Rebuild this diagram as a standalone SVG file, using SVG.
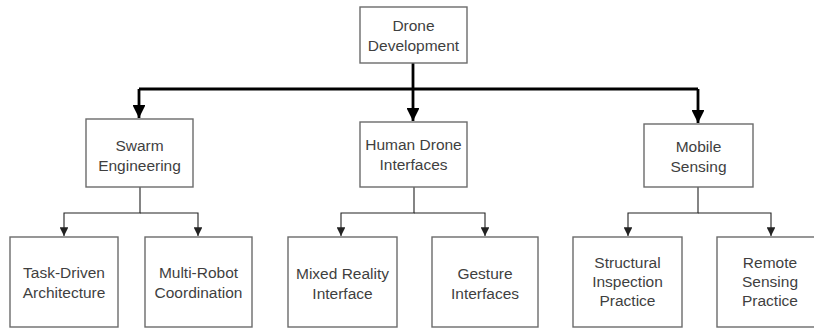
<svg xmlns="http://www.w3.org/2000/svg" width="814" height="329" viewBox="0 0 814 329">
<defs>
<style>
.box{fill:#ffffff;stroke:#6b6b6b;stroke-width:1.4}
.t{font-family:"Liberation Sans",Arial,sans-serif;font-size:15.5px;fill:#3f3f3f;text-anchor:middle}
.thick{fill:none;stroke:#000;stroke-width:2.8}
.thin{fill:none;stroke:#222;stroke-width:1.1}
</style>
<marker id="big" viewBox="0 0 10 10" refX="10" refY="5" markerWidth="4.6" markerHeight="4.6" markerUnits="strokeWidth" orient="auto">
<path d="M0,0 L10,5 L0,10 Z" fill="#000"/>
</marker>
<marker id="small" viewBox="0 0 10 10" refX="10" refY="5" markerWidth="8" markerHeight="8" markerUnits="strokeWidth" orient="auto">
<path d="M0,0 L10,5 L0,10 Z" fill="#222"/>
</marker>
</defs>
<rect width="814" height="329" fill="#ffffff"/>
<g id="connectors">
<path class="thick" d="M413,63 V89"/>
<path class="thick" d="M139,89 H698"/>
<path class="thick" d="M139,89 V118" marker-end="url(#big)"/>
<path class="thick" d="M413,89 V121" marker-end="url(#big)"/>
<path class="thick" d="M698,89 V123" marker-end="url(#big)"/>
<path class="thin" d="M140,187 V213 H64 V236" marker-end="url(#small)"/>
<path class="thin" d="M140,213 H198 V236" marker-end="url(#small)"/>
<path class="thin" d="M414,187 V213 H341 V236" marker-end="url(#small)"/>
<path class="thin" d="M414,213 H485 V236" marker-end="url(#small)"/>
<path class="thin" d="M698,187 V213 H628 V236" marker-end="url(#small)"/>
<path class="thin" d="M698,213 H771 V236" marker-end="url(#small)"/>
</g>
<g id="root">
<rect class="box" x="360" y="7" width="107" height="56"/>
<text class="t" x="413.5" y="31">Drone</text>
<text class="t" x="413.5" y="51">Development</text>
</g>
<g id="swarm">
<rect class="box" x="86" y="119" width="107" height="68"/>
<text class="t" x="139.5" y="151">Swarm</text>
<text class="t" x="139.5" y="171">Engineering</text>
</g>
<g id="hdi">
<rect class="box" x="360" y="122" width="107" height="65"/>
<text class="t" x="413.5" y="150">Human Drone</text>
<text class="t" x="413.5" y="170">Interfaces</text>
</g>
<g id="mobile">
<rect class="box" x="644" y="124" width="109" height="63"/>
<text class="t" x="698.5" y="152">Mobile</text>
<text class="t" x="698.5" y="172">Sensing</text>
</g>
<g id="task">
<rect class="box" x="10" y="237" width="108" height="90"/>
<text class="t" x="64" y="278">Task-Driven</text>
<text class="t" x="64" y="298">Architecture</text>
</g>
<g id="multi">
<rect class="box" x="145" y="237" width="107" height="90"/>
<text class="t" x="198.5" y="278">Multi-Robot</text>
<text class="t" x="198.5" y="298">Coordination</text>
</g>
<g id="mixed">
<rect class="box" x="288" y="237" width="109" height="90"/>
<text class="t" x="342.5" y="279">Mixed Reality</text>
<text class="t" x="342.5" y="299">Interface</text>
</g>
<g id="gesture">
<rect class="box" x="432" y="237" width="106" height="90"/>
<text class="t" x="485" y="279">Gesture</text>
<text class="t" x="485" y="299">Interfaces</text>
</g>
<g id="structural">
<rect class="box" x="573" y="237" width="109" height="90"/>
<text class="t" x="627.5" y="268">Structural</text>
<text class="t" x="627.5" y="287">Inspection</text>
<text class="t" x="627.5" y="306">Practice</text>
</g>
<g id="remote">
<rect class="box" x="717" y="237" width="106" height="90"/>
<text class="t" x="770" y="268">Remote</text>
<text class="t" x="770" y="287">Sensing</text>
<text class="t" x="770" y="306">Practice</text>
</g>
</svg>
